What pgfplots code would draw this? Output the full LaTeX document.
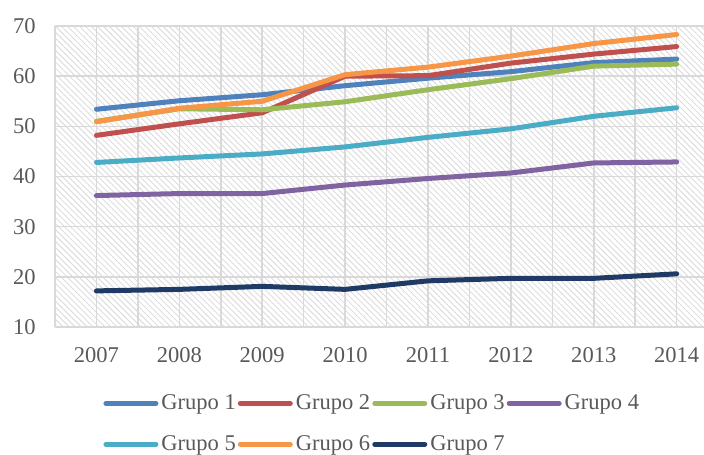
\documentclass[border=0pt]{standalone}
\usepackage{fontspec}
\setmainfont{Liberation Serif}
\usepackage{pgfplots}
\pgfplotsset{compat=1.18}
\usetikzlibrary{patterns}
\definecolor{gA}{HTML}{4F81BD}
\definecolor{gB}{HTML}{C0504D}
\definecolor{gC}{HTML}{9BBB59}
\definecolor{gD}{HTML}{8064A2}
\definecolor{gE}{HTML}{4BACC6}
\definecolor{gF}{HTML}{F79646}
\definecolor{gG}{HTML}{1F3A64}
\definecolor{txt}{HTML}{595959}
\definecolor{grd}{HTML}{D9D9D9}
\begin{document}
\begin{tikzpicture}
\begin{axis}[
  at={(0,0)}, anchor=south west,
  scale only axis, width=324.5bp, height=150.5bp,
  xmin=2006.5, xmax=2014.33, ymin=10, ymax=70,
  xtick={2007,2008,...,2014}, ytick={10,20,...,70},
  minor xtick={2006.5,2007.5,...,2013.5},
  /pgf/number format/assume math mode=true,
  xticklabel style={/pgf/number format/1000 sep={}, anchor=center, yshift=-14bp, inner sep=0pt},
  yticklabel style={anchor=east, xshift=-9.5bp, inner sep=0pt},
  tick label style={font=\fontsize{11.3}{13}\selectfont, text=txt},
  tick style={draw=none},
  grid=both,
  major grid style={draw=grd, line width=0.8bp},
  minor grid style={draw=grd, line width=0.8bp},
  axis x line*=bottom, axis y line*=left,
  x axis line style={draw=grd, line width=1bp, -},
  y axis line style={draw=none},
  axis background/.style={pattern=north west lines, pattern color=gray!30},
  legend style={at={(0.074,-0.216)}, anchor=north west, draw=none, fill=none,
    inner sep=0pt, legend columns=4, row sep=9.5bp,
    font=\fontsize{11.3}{13}\selectfont, text=txt,
    nodes={inner sep=1bp},
    /tikz/every even column/.append style={column sep=0bp},
    /tikz/every odd column/.append style={column sep=0.5bp}},
  legend cell align=left,
  legend image code/.code={\draw[#1] (0bp,0bp) -- (25bp,0bp);},
  every axis plot/.append style={line width=2.5bp, line join=round, line cap=round},
]
\addplot[gA] coordinates {(2007,53.4) (2008,55.1) (2009,56.3) (2010,58.1) (2011,59.6) (2012,60.9) (2013,62.7) (2014,63.4)};
\addplot[gB] coordinates {(2007,48.2) (2008,50.5) (2009,52.7) (2010,60.0) (2011,60.1) (2012,62.6) (2013,64.4) (2014,65.9)};
\addplot[gC] coordinates {(2007,51.0) (2008,53.5) (2009,53.3) (2010,54.9) (2011,57.3) (2012,59.5) (2013,62.0) (2014,62.4)};
\addplot[gD] coordinates {(2007,36.2) (2008,36.6) (2009,36.6) (2010,38.3) (2011,39.6) (2012,40.7) (2013,42.7) (2014,42.9)};
\addplot[gE] coordinates {(2007,42.8) (2008,43.7) (2009,44.5) (2010,45.9) (2011,47.8) (2012,49.5) (2013,52.0) (2014,53.7)};
\addplot[gF] coordinates {(2007,50.9) (2008,53.6) (2009,55.0) (2010,60.3) (2011,61.8) (2012,64.0) (2013,66.5) (2014,68.3)};
\addplot[gG] coordinates {(2007,17.2) (2008,17.5) (2009,18.1) (2010,17.5) (2011,19.2) (2012,19.7) (2013,19.7) (2014,20.6)};
\legend{Grupo 1, Grupo 2, Grupo 3, Grupo 4, Grupo 5, Grupo 6, Grupo 7}
\end{axis}
\pgfresetboundingbox
\path (-27.5bp,-64bp) rectangle (324.5bp,163.5bp);
\end{tikzpicture}
\end{document}
